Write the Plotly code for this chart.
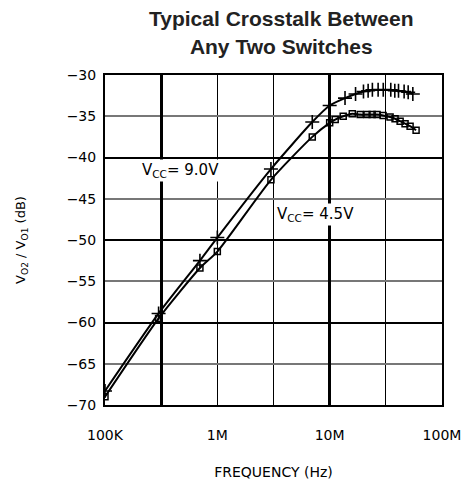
import plotly.graph_objects as go

# Frequency (Hz) and crosstalk (dB)
freq_9v = [1e5, 3e5, 7e5, 1e6, 3e6, 7e6, 1e7, 1.37e7, 1.7e7, 2.0e7, 2.2e7, 2.4e7, 2.7e7,
           3.0e7, 3.5e7, 3.8e7, 4.1e7, 4.6e7, 5.0e7, 5.5e7]
db_9v = [-68.3, -58.9, -52.5, -49.7, -41.4, -35.7, -33.7, -32.8, -32.3, -32.0, -31.9, -31.8,
         -31.8, -31.8, -31.8, -31.9, -31.9, -32.0, -32.1, -32.3]

freq_45v = [1e5, 3e5, 7e5, 1e6, 3e6, 7e6, 1e7, 1.12e7, 1.32e7, 1.59e7, 1.87e7, 2.15e7, 2.39e7,
            2.64e7, 2.99e7, 3.45e7, 3.82e7, 4.24e7, 4.69e7, 5.2e7, 5.88e7]
db_45v = [-69.0, -59.5, -53.4, -51.4, -42.7, -37.5, -35.8, -35.4, -35.0, -34.7, -34.8, -34.8,
          -34.8, -34.8, -34.9, -35.1, -35.3, -35.6, -35.9, -36.2, -36.7]

x_grid = [1e5, 10**5.5, 1e6, 10**6.5, 1e7, 10**7.5, 1e8]
x_labels = ["100K", "", "1M", "", "10M", "", "100M"]
x_major_grid = [10**5.5, 1e7]
y_ticks = [-70, -65, -60, -55, -50, -45, -40, -35, -30]
y_major_grid = [-60, -50, -40]

label_font = dict(family="DejaVu Sans", size=13, color="black")
tick_font = dict(family="DejaVu Sans", size=14, color="black")

fig = go.Figure()

# invisible helper trace so the overlay axes are drawn
fig.add_trace(go.Scatter(x=[1e5], y=[-70], xaxis="x2", yaxis="y2", mode="markers",
                         marker=dict(opacity=0), hoverinfo="skip", showlegend=False))

fig.add_trace(go.Scatter(x=freq_9v, y=db_9v, mode="lines+markers", name="VCC = 9.0V",
                         line=dict(color="black", width=2, shape="spline", smoothing=0.6),
                         marker=dict(symbol="cross-thin", size=10,
                                     line=dict(color="black", width=1.6)),
                         showlegend=False))
fig.add_trace(go.Scatter(x=freq_45v, y=db_45v, mode="lines+markers", name="VCC = 4.5V",
                         line=dict(color="black", width=2, shape="spline", smoothing=0.6),
                         marker=dict(symbol="square-open", size=6, color="black",
                                     line=dict(color="black", width=1.5)),
                         showlegend=False))

fig.update_layout(
    width=472, height=485,
    margin=dict(l=97, r=38, t=67, b=88),
    paper_bgcolor="white", plot_bgcolor="white",
    title=dict(text="<b>Typical Crosstalk Between<br>Any Two Switches</b>",
               x=0.579, xanchor="center", y=0.962, yanchor="middle",
               font=dict(family="Liberation Sans", size=21, color="#222")),
    xaxis=dict(type="log", range=[5, 8], tickmode="array", tickvals=x_grid,
               ticktext=x_labels, showgrid=True, gridcolor="black", gridwidth=1,
               showline=True, linecolor="black", linewidth=2, mirror=True,
               ticks="", tickfont=tick_font, zeroline=False, ticklabelstandoff=16,
               title=dict(text="FREQUENCY (Hz)", font=dict(family="DejaVu Sans", size=14,
                                                           color="black"), standoff=25)),
    yaxis=dict(range=[-70, -30], tickmode="array", tickvals=y_ticks,
               showgrid=True, gridcolor="#777", gridwidth=1.5,
               showline=True, linecolor="black", linewidth=2, mirror=True,
               ticks="", tickfont=tick_font, zeroline=False, ticklabelstandoff=4,
               title=dict(text="V<sub>O2</sub> / V<sub>O1</sub> (dB)", font=label_font,
                          standoff=38)),
    xaxis2=dict(type="log", range=[5, 8], overlaying="x", tickmode="array",
                tickvals=x_major_grid, showticklabels=False, showgrid=True,
                gridcolor="black", gridwidth=3, ticks="", showline=False, zeroline=False),
    yaxis2=dict(range=[-70, -30], overlaying="y", tickmode="array",
                tickvals=y_major_grid, showticklabels=False, showgrid=True,
                gridcolor="black", gridwidth=2, ticks="", showline=False, zeroline=False),
    annotations=[
        dict(x=5.67, y=-41.6, xref="x", yref="y", text="V<sub>CC</sub>= 9.0V",
             showarrow=False, bgcolor="white", font=dict(family="DejaVu Sans", size=15,
                                                       color="black")),
        dict(x=6.87, y=-46.9, xref="x", yref="y", text="V<sub>CC</sub>= 4.5V",
             showarrow=False, bgcolor="white", font=dict(family="DejaVu Sans", size=15,
                                                       color="black")),
    ],
)

fig.write_html("out.html")
